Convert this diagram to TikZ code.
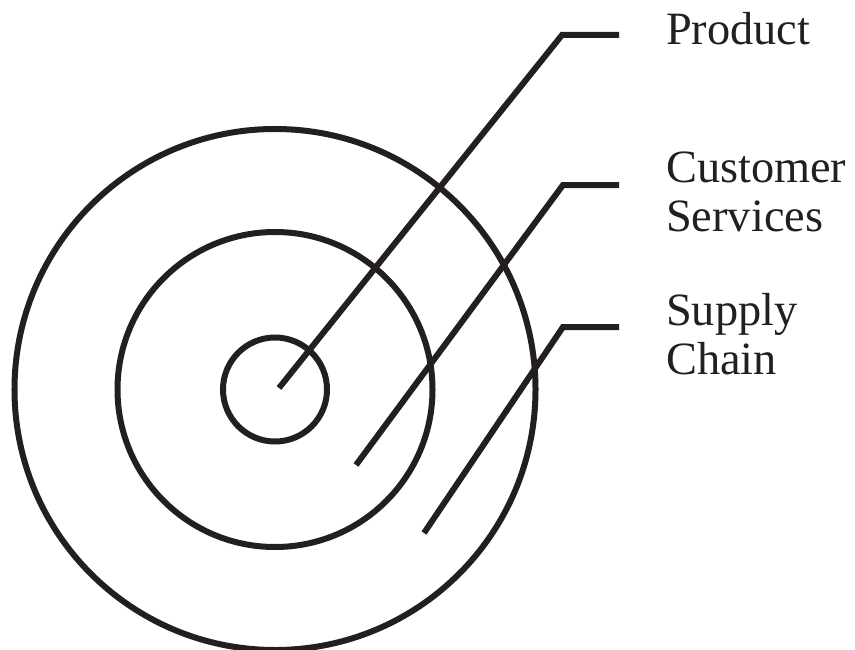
\documentclass[tikz,border=0pt]{standalone}
\usepackage{fontspec}
\setmainfont{Liberation Serif}
\definecolor{ink}{HTML}{231F20}
\begin{document}
\begin{tikzpicture}[x=1bp,y=-1bp,
  ring/.style={circle, draw=ink, line width=6bp, inner sep=0pt},
  leader/.style={draw=ink, line width=6bp, line join=miter},
  label/.style={font=\fontsize{46.5}{49}\selectfont, text=ink, inner sep=0pt, anchor=base west, align=left}]
\useasboundingbox (0,0) rectangle (855,650);
\coordinate (c) at (275,389.5);
\node[ring, minimum size=521bp] (outer) at (c) {};
\node[ring, minimum size=315bp] (middle) at (c) {};
\node[ring, minimum size=104bp] (inner) at (c) {};
\coordinate (p1) at (279,388);
\coordinate (e1) at (562,35);
\coordinate (h1) at (619,35);
\coordinate (p2) at (356,465);
\coordinate (e2) at (563,185);
\coordinate (h2) at (619,185);
\coordinate (p3) at (424,533);
\coordinate (e3) at (563,327);
\coordinate (h3) at (619,327);
\node[label] (product) at (666,45) {Product};
\node[label] (customer) at (666,231) {Customer\\Services};
\node[label] (supply) at (666,374) {Supply\\Chain};
\draw[leader] (p1) -- (e1) -- (h1);
\draw[leader] (p2) -- (e2) -- (h2);
\draw[leader] (p3) -- (e3) -- (h3);
\end{tikzpicture}
\end{document}
